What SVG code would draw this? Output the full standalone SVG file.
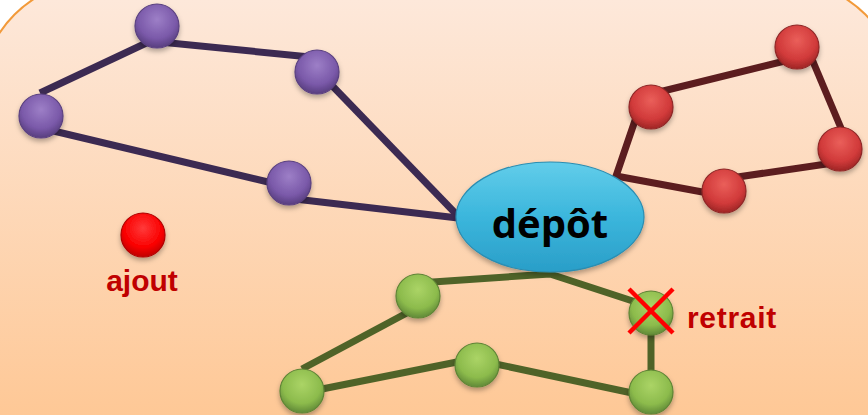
<svg xmlns="http://www.w3.org/2000/svg" width="868" height="415" viewBox="0 0 868 415">
  <defs>
    <linearGradient id="bg" x1="0" y1="0" x2="0" y2="415" gradientUnits="userSpaceOnUse">
      <stop offset="0" stop-color="#fde8da"/>
      <stop offset="1" stop-color="#fec896"/>
    </linearGradient>
    <radialGradient id="gPurple" cx="50%" cy="35%" r="62%">
      <stop offset="0" stop-color="#9d7fc7"/>
      <stop offset="0.7" stop-color="#7a59a9"/>
      <stop offset="1" stop-color="#5c4184"/>
    </radialGradient>
    <radialGradient id="gRed" cx="50%" cy="35%" r="62%">
      <stop offset="0" stop-color="#ea5f5a"/>
      <stop offset="0.7" stop-color="#d13a3a"/>
      <stop offset="1" stop-color="#a52828"/>
    </radialGradient>
    <radialGradient id="gGreen" cx="50%" cy="35%" r="62%">
      <stop offset="0" stop-color="#abd466"/>
      <stop offset="0.7" stop-color="#8cbb4c"/>
      <stop offset="1" stop-color="#66903a"/>
    </radialGradient>
    <radialGradient id="gAdd" cx="50%" cy="35%" r="62%">
      <stop offset="0" stop-color="#ff3a3a"/>
      <stop offset="0.7" stop-color="#fa0000"/>
      <stop offset="1" stop-color="#c80000"/>
    </radialGradient>
    <linearGradient id="gDepot" x1="0" y1="0" x2="0" y2="1">
      <stop offset="0" stop-color="#62cdea"/>
      <stop offset="0.5" stop-color="#3bb6dc"/>
      <stop offset="1" stop-color="#2a9ec8"/>
    </linearGradient>
    <filter id="shadow" x="-30%" y="-30%" width="160%" height="170%">
      <feDropShadow dx="0" dy="3" stdDeviation="2.5" flood-color="#000" flood-opacity="0.3"/>
    </filter>
  </defs>
  <style>
    .purple line, .purple polyline { stroke: #3c2a52; }
    .red line, .red polyline { stroke: #5c1d1f; }
    .green line, .green polyline { stroke: #4f6328; }
    #connectors line, #connectors polyline { stroke-width: 7; fill: none; stroke-linejoin: miter; }
    .node circle { filter: url(#shadow); stroke-width: 1.2; }
    .np { fill: url(#gPurple); stroke: #5a4080; }
    .nr { fill: url(#gRed); stroke: #8e2626; }
    .ng { fill: url(#gGreen); stroke: #5e8435; }
    .na { fill: url(#gAdd); stroke: #b00000; }
    .label { font-family: "Liberation Sans", Arial, sans-serif; font-weight: bold; font-size: 30px; fill: #c00000; }
  </style>

  <rect x="-20" y="-20" width="920" height="700" rx="118" ry="118" fill="url(#bg)" stroke="#f29a3a" stroke-width="2"/>

  <g id="connectors">
    <g class="purple">
      <line x1="40" y1="93" x2="157" y2="38"/>
      <line x1="160" y1="42" x2="310" y2="57"/>
      <line x1="317" y1="70" x2="458" y2="216"/>
      <line x1="41" y1="128" x2="289" y2="187"/>
      <line x1="295" y1="199" x2="458" y2="218"/>
    </g>
    <g class="red">
      <line x1="651" y1="94" x2="797" y2="58"/>
      <line x1="806" y1="45" x2="846" y2="140"/>
      <line x1="840" y1="162" x2="724" y2="179"/>
      <polyline points="724,196 616,176 642,100"/>
    </g>
    <g class="green">
      <line x1="302" y1="369" x2="418" y2="307"/>
      <line x1="302" y1="393" x2="477" y2="358"/>
      <polyline points="418,283 550,274 651,307"/>
      <line x1="477" y1="360" x2="651" y2="397"/>
      <line x1="651" y1="313" x2="651" y2="392"/>
    </g>
  </g>

  <g id="depot" class="node">
    <ellipse cx="550" cy="217" rx="94" ry="55" fill="url(#gDepot)" stroke="#2a8db2" stroke-width="1.2" filter="url(#shadow)"/>
    <text x="550" y="238" text-anchor="middle" font-family="'Open Sans', 'Liberation Sans', sans-serif" font-weight="bold" font-size="40" fill="#000">dépôt</text>
  </g>

  <g id="p1" class="node"><circle class="np" cx="157" cy="26" r="22"/></g>
  <g id="p2" class="node"><circle class="np" cx="317" cy="72" r="22"/></g>
  <g id="p3" class="node"><circle class="np" cx="41" cy="116" r="22"/></g>
  <g id="p4" class="node"><circle class="np" cx="289" cy="183" r="22"/></g>

  <g id="r1" class="node"><circle class="nr" cx="797" cy="47" r="22"/></g>
  <g id="r2" class="node"><circle class="nr" cx="651" cy="107" r="22"/></g>
  <g id="r3" class="node"><circle class="nr" cx="840" cy="149" r="22"/></g>
  <g id="r4" class="node"><circle class="nr" cx="724" cy="191" r="22"/></g>

  <g id="g1" class="node"><circle class="ng" cx="418" cy="296" r="22"/></g>
  <g id="g2" class="node"><circle class="ng" cx="302" cy="391" r="22"/></g>
  <g id="g3" class="node"><circle class="ng" cx="477" cy="365" r="22"/></g>
  <g id="g5" class="node"><circle class="ng" cx="651" cy="392" r="22"/></g>

  <g id="g4-retrait" class="node">
    <circle class="ng" cx="651" cy="313" r="22"/>
    <line x1="629" y1="289" x2="673" y2="333" stroke="#ff0000" stroke-width="4.5"/>
    <line x1="673" y1="289" x2="629" y2="333" stroke="#ff0000" stroke-width="4.5"/>
    <text class="label" x="687" y="328" letter-spacing="0.7">retrait</text>
  </g>

  <g id="ajout" class="node">
    <circle class="na" cx="143" cy="235" r="22"/>
    <text class="label" x="142" y="291" text-anchor="middle">ajout</text>
  </g>
</svg>
